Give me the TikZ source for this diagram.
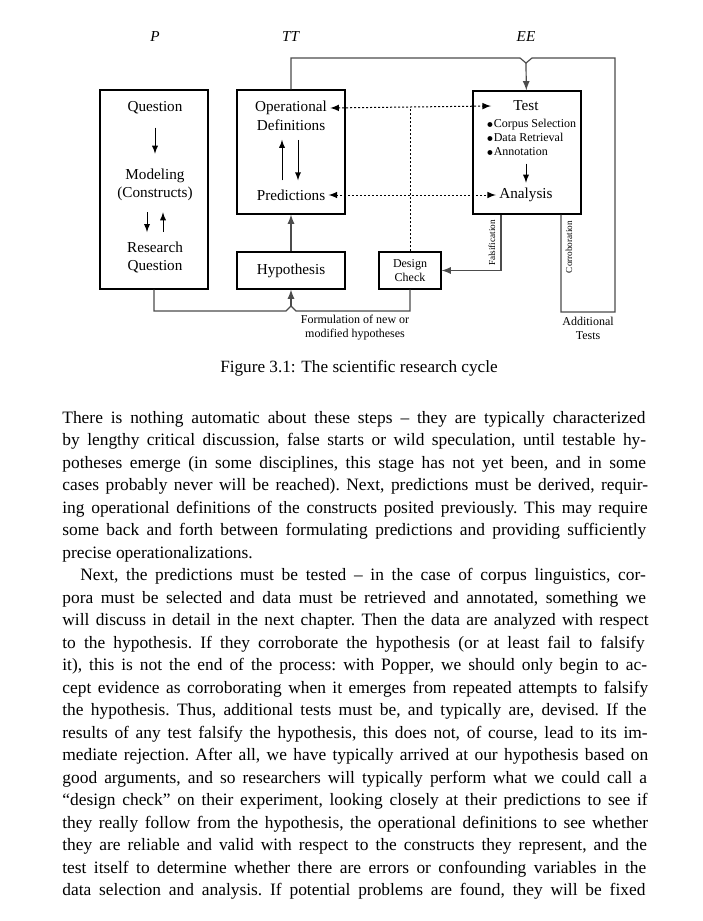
\documentclass[tikz,border=0pt]{standalone}
\usepackage{fontspec}
\setmainfont{Liberation Serif}
\usepackage{tikz}
\usetikzlibrary{calc}

\begin{document}
\begin{tikzpicture}[x=0.5pt,y=-0.5pt,
  box/.style={draw,line width=0.6pt,inner sep=0pt},
  conn/.style={draw=black!70,line width=0.6pt},
  dotline/.style={dash pattern=on 1pt off 1pt,line width=0.5pt},
  dia/.style={font=\fontsize{7.6}{9}\selectfont,align=center,inner sep=1.5pt},
  sml/.style={font=\fontsize{6}{7}\selectfont,align=center,inner sep=1pt}]
  \useasboundingbox (0,0) rectangle (702,921);
  % column heads
  \node[dia] (hp) at (155,37) {\textit{P}};
  \node[dia] (htt) at (291,37) {\textit{TT}};
  \node[dia] (hee) at (526,37) {\textit{EE}};
  % boxes
  \node[box,minimum width=54pt,minimum height=99.5pt] (P) at (154,189.5) {};
  \node[box,minimum width=54pt,minimum height=62pt] (TT) at (291,152) {};
  \node[box,minimum width=54pt,minimum height=61.5pt] (Test) at (527,152.5) {};
  \node[box,dia,minimum width=54pt,minimum height=18.5pt] (hyp) at (291,270.5) {Hypothesis};
  \node[box,sml,minimum width=31pt,minimum height=18.5pt] (DC) at (410,270.5) {Design\\Check};
  % texts inside P
  \node[dia] (q) at (155,108) {Question};
  \node[dia] (mod) at (155,185) {Modeling\\(Constructs)};
  \node[dia] (rq) at (155,257) {Research\\Question};
  \path[-latex] (q) edge[shorten <=5pt,shorten >=6pt] (mod);
  \path[-latex] ([xshift=-4pt]mod.south) edge[shorten <=4pt,shorten >=3pt] ([xshift=-4pt]rq.north);
  \path[-latex] ([xshift=4pt]rq.north) edge[shorten <=3pt,shorten >=4pt] ([xshift=4pt]mod.south);
  % texts inside TT
  \node[dia] (op) at (291,108) {Operational};
  \node[dia] (def) at (291,125) {Definitions};
  \node[dia] (pred) at (291,195) {Predictions};
  \path[-latex] ([xshift=-4.5pt]pred.north) edge[shorten <=3pt,shorten >=3pt] ([xshift=-4.5pt]def.south);
  \path[-latex] ([xshift=3.5pt]def.south) edge[shorten <=3pt,shorten >=3pt] ([xshift=3.5pt]pred.north);
  % texts inside Test
  \node[dia] (test) at (526,106) {Test};
  \node[sml,anchor=west,align=left,inner sep=0pt] (steps) at (486,137)
    {$\scriptscriptstyle\bullet$Corpus Selection\\$\scriptscriptstyle\bullet$Data Retrieval\\$\scriptscriptstyle\bullet$Annotation};
  \node[dia] (ana) at (526,195) {Analysis};
  \path[-latex] (steps.south -| ana) edge[shorten <=4pt,shorten >=1pt] (ana);
  % dotted links
  \draw[dotline,latex-latex] (op.east) -- ([xshift=-9.5pt]test.west);
  \draw[dotline,latex-latex] (pred.east) -- (ana.west);
  \draw[dotline] (DC.north) -- (DC.north |- op.east);
  % loops
  \coordinate (tn) at (526,63);
  \coordinate (bn) at (291,306);
  \draw[conn] (TT.north) |- (520,58) -- (tn) -- (532,58) -| (615,312) -| ([xshift=17pt]Test.south);
  \draw[conn,-latex] (tn) -- (Test);
  \draw[conn,-latex] ([xshift=-13pt]Test.south) |- (DC.east);
  \draw[conn] (P.south) |- (286,311) -- (bn) -- (296,311) -| (DC.south);
  \draw[conn,-latex] (bn) -- (hyp);
  \draw[conn,-latex] (hyp) -- (TT);
  % edge labels
  \node[rotate=90,font=\fontsize{4.6}{5}\selectfont,inner sep=0pt] (fal) at (492,243) {Falsification};
  \node[rotate=90,font=\fontsize{4.6}{5}\selectfont,inner sep=0pt] (cor) at (569,247) {Corroboration};
  \node[sml] (form) at (355,328) {Formulation of new or\\modified hypotheses};
  \node[sml] (add) at (588,328) {Additional\\Tests};
  % caption and body
  \node[font=\fontsize{8.6}{10}\selectfont] (cap) at (359,368) {Figure 3.1: The scientific research cycle};
  \node[anchor=base west,text width=295pt,inner sep=0pt,font=\fontsize{8.7}{11.25}\selectfont] (body) at (62,423) {%
    \frenchspacing \hyphenpenalty=10000 \exhyphenpenalty=10000 \pretolerance=-1 \tolerance=9999
    \emergencystretch=20pt \hbadness=10000 \hfuzz=5pt \parindent=9pt
    \spaceskip=0.25em plus 1em minus 0.12em
    \noindent There is nothing automatic about these steps – they are typically characterized\linebreak
    by lengthy critical discussion, false starts or wild speculation, until testable hy-\linebreak
    potheses emerge (in some disciplines, this stage has not yet been, and in some\linebreak
    cases probably never will be reached). Next, predictions must be derived, requir-\linebreak
    ing operational definitions of the constructs posited previously. This may require\linebreak
    some back and forth between formulating predictions and providing sufficiently\linebreak
    precise operationalizations.\par
    Next, the predictions must be tested – in the case of corpus linguistics, cor-\linebreak
    pora must be selected and data must be retrieved and annotated, something we\linebreak
    will discuss in detail in the next chapter. Then the data are analyzed with respect\linebreak
    to the hypothesis. If they corroborate the hypothesis (or at least fail to falsify\linebreak
    it), this is not the end of the process: with Popper, we should only begin to ac-\linebreak
    cept evidence as corroborating when it emerges from repeated attempts to falsify\linebreak
    the hypothesis. Thus, additional tests must be, and typically are, devised. If the\linebreak
    results of any test falsify the hypothesis, this does not, of course, lead to its im-\linebreak
    mediate rejection. After all, we have typically arrived at our hypothesis based on\linebreak
    good arguments, and so researchers will typically perform what we could call a\linebreak
    “design check” on their experiment, looking closely at their predictions to see if\linebreak
    they really follow from the hypothesis, the operational definitions to see whether\linebreak
    they are reliable and valid with respect to the constructs they represent, and the\linebreak
    test itself to determine whether there are errors or confounding variables in the\linebreak
    data selection and analysis. If potential problems are found, they will be fixed\parfillskip=0pt\par};
\end{tikzpicture}
\end{document}
